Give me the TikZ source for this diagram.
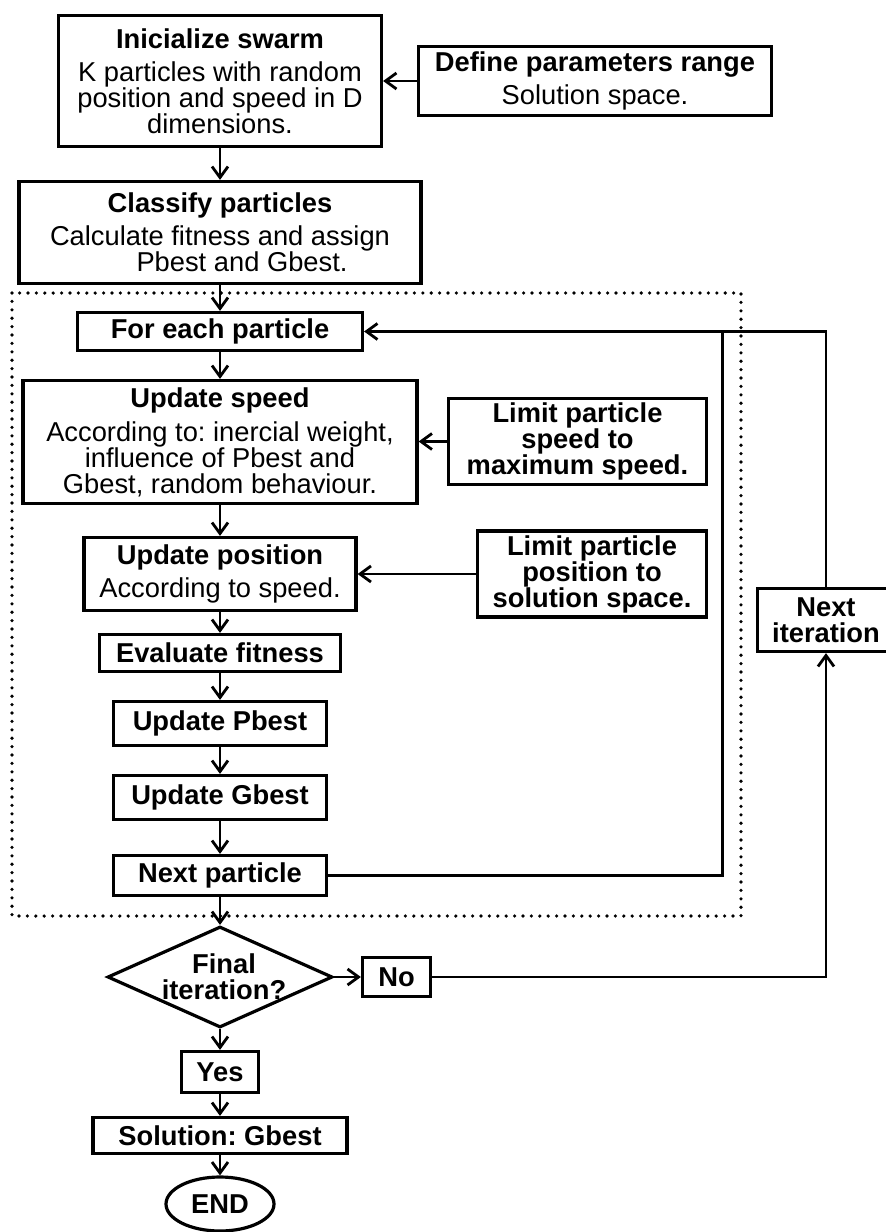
\documentclass[tikz,border=0pt]{standalone}
\usepackage{fontspec}
\setmainfont{Liberation Sans}
\usetikzlibrary{arrows.meta,shapes.geometric}
\newcommand\diagfont{\fontsize{27.3}{26}\selectfont\frenchspacing}
\begin{document}
\begin{tikzpicture}[x=1pt,y=-1pt,
  box/.style={draw, line width=3.2pt, align=center, inner sep=0pt, font=\diagfont},
  conn/.style={line width=2.8pt},
  arr/.style={conn,-{Straight Barb[length=11pt,width=16pt,line width=2.8pt]}},
  frame/.style={line width=3.6pt, line cap=round, dash pattern=on 0pt off 8.4pt}
]
\fill[white] (0,0) rectangle (886,1232);
\useasboundingbox (0,0) rectangle (886,1232);

% dotted loop frame
\draw[frame] (12,293) rectangle (741,916);

% main column
\node[box, minimum width=323, minimum height=131] (init) at (220,81)
  {\textbf{Inicialize swarm}\\[7pt]K particles with random\\position and speed in D\\dimensions.};
\node[box, minimum width=353, minimum height=69] (def) at (595,81)
  {\textbf{Define parameters range}\\[7pt]Solution space.};
\node[box, minimum width=402, minimum height=102] (cls) at (220,232.5)
  {\textbf{Classify particles}\\[7pt]Calculate fitness and assign\\\hspace*{44pt}Pbest and Gbest.};
\node[box, minimum width=285, minimum height=38] (fe) at (220,331.5)
  {\textbf{For each particle}};
\node[box, minimum width=394, minimum height=123] (spd) at (220,442)
  {\textbf{Update speed}\\[8pt]According to: inercial weight,\\influence of Pbest and\\Gbest, random behaviour.};
\node[box, minimum width=258, minimum height=86] (lspd) at (577.5,441.5)
  {\textbf{Limit particle}\\\textbf{speed to}\\\textbf{maximum speed.}};
\node[box, minimum width=272, minimum height=73] (pos) at (220,574)
  {\textbf{Update position}\\[7pt]According to speed.};
\node[box, minimum width=229, minimum height=86] (lpos) at (592,574)
  {\textbf{Limit particle}\\\textbf{position to}\\\textbf{solution space.}};
\node[box, minimum width=241, minimum height=37] (ev) at (220,653)
  {\textbf{Evaluate fitness}};
\node[box, minimum width=213, minimum height=44] (pb) at (220,723.5)
  {\textbf{Update Pbest}};
\node[box, minimum width=213, minimum height=44] (gb) at (220,797.5)
  {\textbf{Update Gbest}};
\node[box, minimum width=213, minimum height=40] (np) at (220,875.5)
  {\textbf{Next particle}};
\node[draw, diamond, line width=3.2pt, minimum width=225, minimum height=101, inner sep=0pt] (dec) at (220,977) {};
\node[align=center, inner sep=0pt, font=\diagfont] (dect) at (224,977) {\textbf{Final}\\\textbf{iteration?}};
\node[box, minimum width=68, minimum height=39] (no) at (396.5,977) {\textbf{No}};
\node[box, minimum width=77, minimum height=41] (yes) at (220,1072) {\textbf{Yes}};
\node[box, minimum width=254, minimum height=36] (sol) at (220,1135.5) {\textbf{Solution: Gbest}};
\node[draw, ellipse, line width=3.2pt, minimum width=108, minimum height=54, inner sep=0pt, font=\diagfont] (end) at (220,1204) {\textbf{END}};
\node[box, minimum width=137, minimum height=63] (ni) at (826,620)
  {\textbf{Next}\\\textbf{iteration}};

% vertical flow
\draw[arr] (init) -- (cls);
\draw[arr] (cls) -- (fe);
\draw[arr] (fe) -- (spd);
\draw[arr] (spd) -- (pos);
\draw[arr] (pos) -- (ev);
\draw[arr] (ev) -- (pb);
\draw[arr] (pb) -- (gb);
\draw[arr] (gb) -- (np);
\draw[arr] (np) -- (dec);
\draw[arr] (dec) -- (yes);
\draw[arr] (yes) -- (sol);
\draw[arr] (sol) -- (end);

% side inputs
\draw[arr] (def.west) -- (init.east |- def.west);
\draw[arr] (lspd.west) -- (spd.east |- lspd.west);
\draw[arr] (lpos.west) -- (pos.east |- lpos.west);

% loops
\path (fe.east) ++(358,0) coordinate (lp);
\draw[arr] (np.east) -| (lp) -- (fe.east);
\draw[conn] (ni.north) |- (lp);
\draw[arr] (dec.east) -- (no.west);
\draw[arr] (no.east) -| (ni.south);
\end{tikzpicture}
\end{document}
